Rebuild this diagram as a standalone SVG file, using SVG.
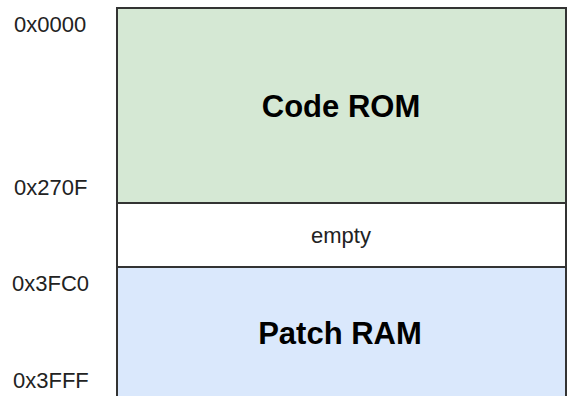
<svg xmlns="http://www.w3.org/2000/svg" width="568" height="396" viewBox="0 0 568 396">
<style>
.box{stroke:#333;stroke-width:2}
.addr{font-family:"Liberation Sans",Arial,sans-serif;font-size:22px;fill:#222}
.big{font-family:"Liberation Sans",Arial,sans-serif;font-size:31px;font-weight:bold;fill:#000;text-anchor:middle}
.small{font-family:"Liberation Sans",Arial,sans-serif;font-size:22px;fill:#222;text-anchor:middle}
</style>
<rect width="568" height="396" fill="#fff"/>
<g id="code-rom">
<rect class="box" x="117" y="8" width="449" height="195" fill="#d5e8d4"/>
<text class="big" x="341" y="117">Code ROM</text>
</g>
<g id="empty">
<rect class="box" x="117" y="203" width="449" height="64" fill="#fff"/>
<text class="small" x="341" y="243">empty</text>
</g>
<g id="patch-ram">
<rect class="box" x="117" y="267" width="449" height="132" fill="#dae8fc"/>
<text class="big" x="340" y="344">Patch RAM</text>
</g>
<g id="labels">
<text class="addr" x="14" y="32">0x0000</text>
<text class="addr" x="14" y="195">0x270F</text>
<text class="addr" x="12" y="291">0x3FC0</text>
<text class="addr" x="13" y="388">0x3FFF</text>
</g>
<g id="connectors"/>
</svg>
